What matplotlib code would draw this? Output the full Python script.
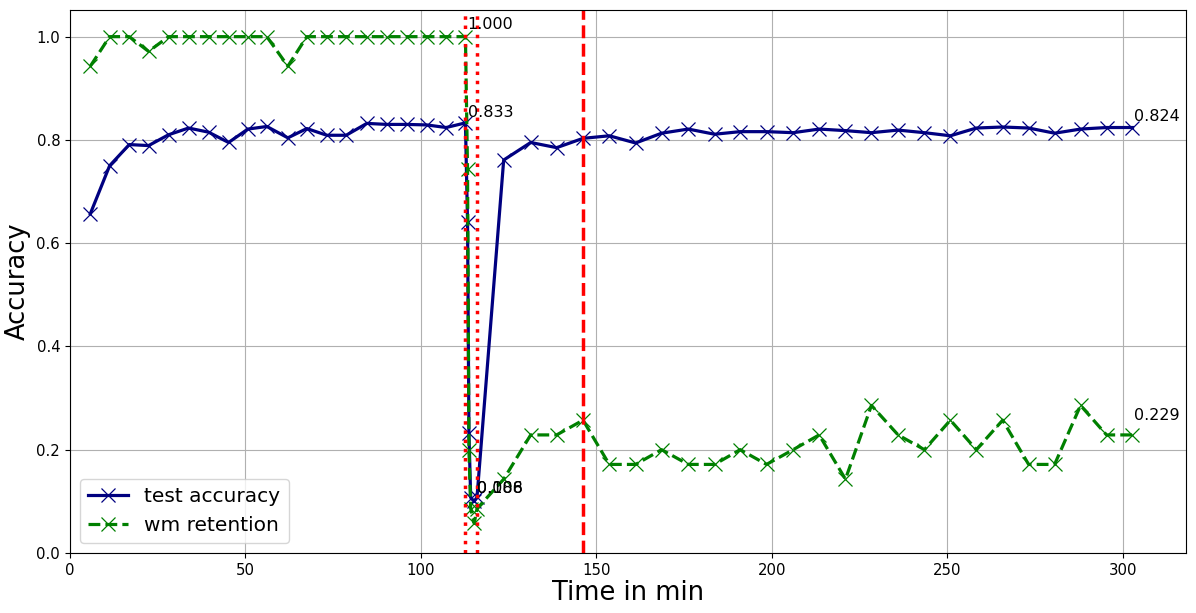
import matplotlib
matplotlib.use("Agg")
import matplotlib.pyplot as plt
import numpy as np

# ---- data ----
time_min = [5.8, 11.3, 16.9, 22.4, 28.1, 33.8, 39.5, 45.2, 50.7, 56.1,
            62.1, 67.5, 73.2, 78.7, 84.6, 90.3, 96.0, 101.7, 107.2, 112.7,
            113.3, 113.7, 114.2, 115.2, 116.0,
            123.6, 131.3, 138.7, 146.2, 153.7, 161.2, 168.6, 176.2, 183.7, 191.0,
            198.5, 206.1, 213.5, 221.0, 228.4, 236.0, 243.5, 250.9, 258.3, 265.8,
            273.2, 280.6, 288.0, 295.4, 302.8]

test_accuracy = [0.657, 0.750, 0.791, 0.789, 0.810, 0.823, 0.815, 0.795, 0.821, 0.826,
                 0.804, 0.822, 0.809, 0.809, 0.832, 0.830, 0.830, 0.829, 0.824, 0.833,
                 0.641, 0.232, 0.107, 0.100, 0.108,
                 0.761, 0.795, 0.785, 0.803, 0.808, 0.794, 0.813, 0.821, 0.811, 0.816,
                 0.816, 0.814, 0.821, 0.818, 0.814, 0.819, 0.814, 0.808, 0.823, 0.825,
                 0.823, 0.813, 0.821, 0.824, 0.824]

wm_hits = [33, 35, 35, 34, 35, 35, 35, 35, 35, 35,
           33, 35, 35, 35, 35, 35, 35, 35, 35, 35,
           26, 7, 3, 2, 3,
           5, 8, 8, 9, 6, 6, 7, 6, 6, 7,
           6, 7, 8, 5, 10, 8, 7, 9, 7, 9,
           6, 6, 10, 8, 8]
wm_total = 35
wm_retention = [h / wm_total for h in wm_hits]

attack_start = 112.7
attack_end = 116.0
recovery_time = 146.2

# annotations: (label, x, y)
annot_labels = ["1.000", "0.833", "0.086", "0.108", "0.824", "0.229"]
annot_x = [113.3, 113.3, 115.9, 115.9, 303.1, 303.1]
annot_y = [1.015, 0.845, 0.116, 0.116, 0.836, 0.258]

# ---- figure ----
fig = plt.figure(figsize=(11.96, 6.13), dpi=100)
ax = fig.add_axes([0.0585, 0.098, 0.933, 0.886])

ax.plot(time_min, test_accuracy, color="navy", linestyle="-", linewidth=2.3,
        marker="x", markersize=9.5, markeredgewidth=0.9, label="test accuracy")
ax.plot(time_min, wm_retention, color="green", linestyle="--", linewidth=2.3,
        marker="x", markersize=9.5, markeredgewidth=0.9, label="wm retention")

ax.axvline(attack_start, color="red", linestyle=":", linewidth=2.5)
ax.axvline(attack_end, color="red", linestyle=":", linewidth=2.5)
ax.axvline(recovery_time, color="red", linestyle="--", linewidth=2.5)

for lab, x, y in zip(annot_labels, annot_x, annot_y):
    ax.text(x, y, lab, fontsize=11.5, ha="left", va="baseline")

ax.set_xlim(0, 318)
ax.set_ylim(0, 1.052)
ax.set_xticks([0, 50, 100, 150, 200, 250, 300])
ax.set_yticks([0.0, 0.2, 0.4, 0.6, 0.8, 1.0])
ax.tick_params(labelsize=10.7)
ax.grid(True, color="#b0b0b0", linewidth=0.8)
ax.set_axisbelow(True)

ax.set_xlabel("Time in min", fontsize=18.5, labelpad=2)
ax.set_ylabel("Accuracy", fontsize=18.5)
ax.legend(loc="lower left", fontsize=14.5)

fig.savefig("out.png", dpi=100)
